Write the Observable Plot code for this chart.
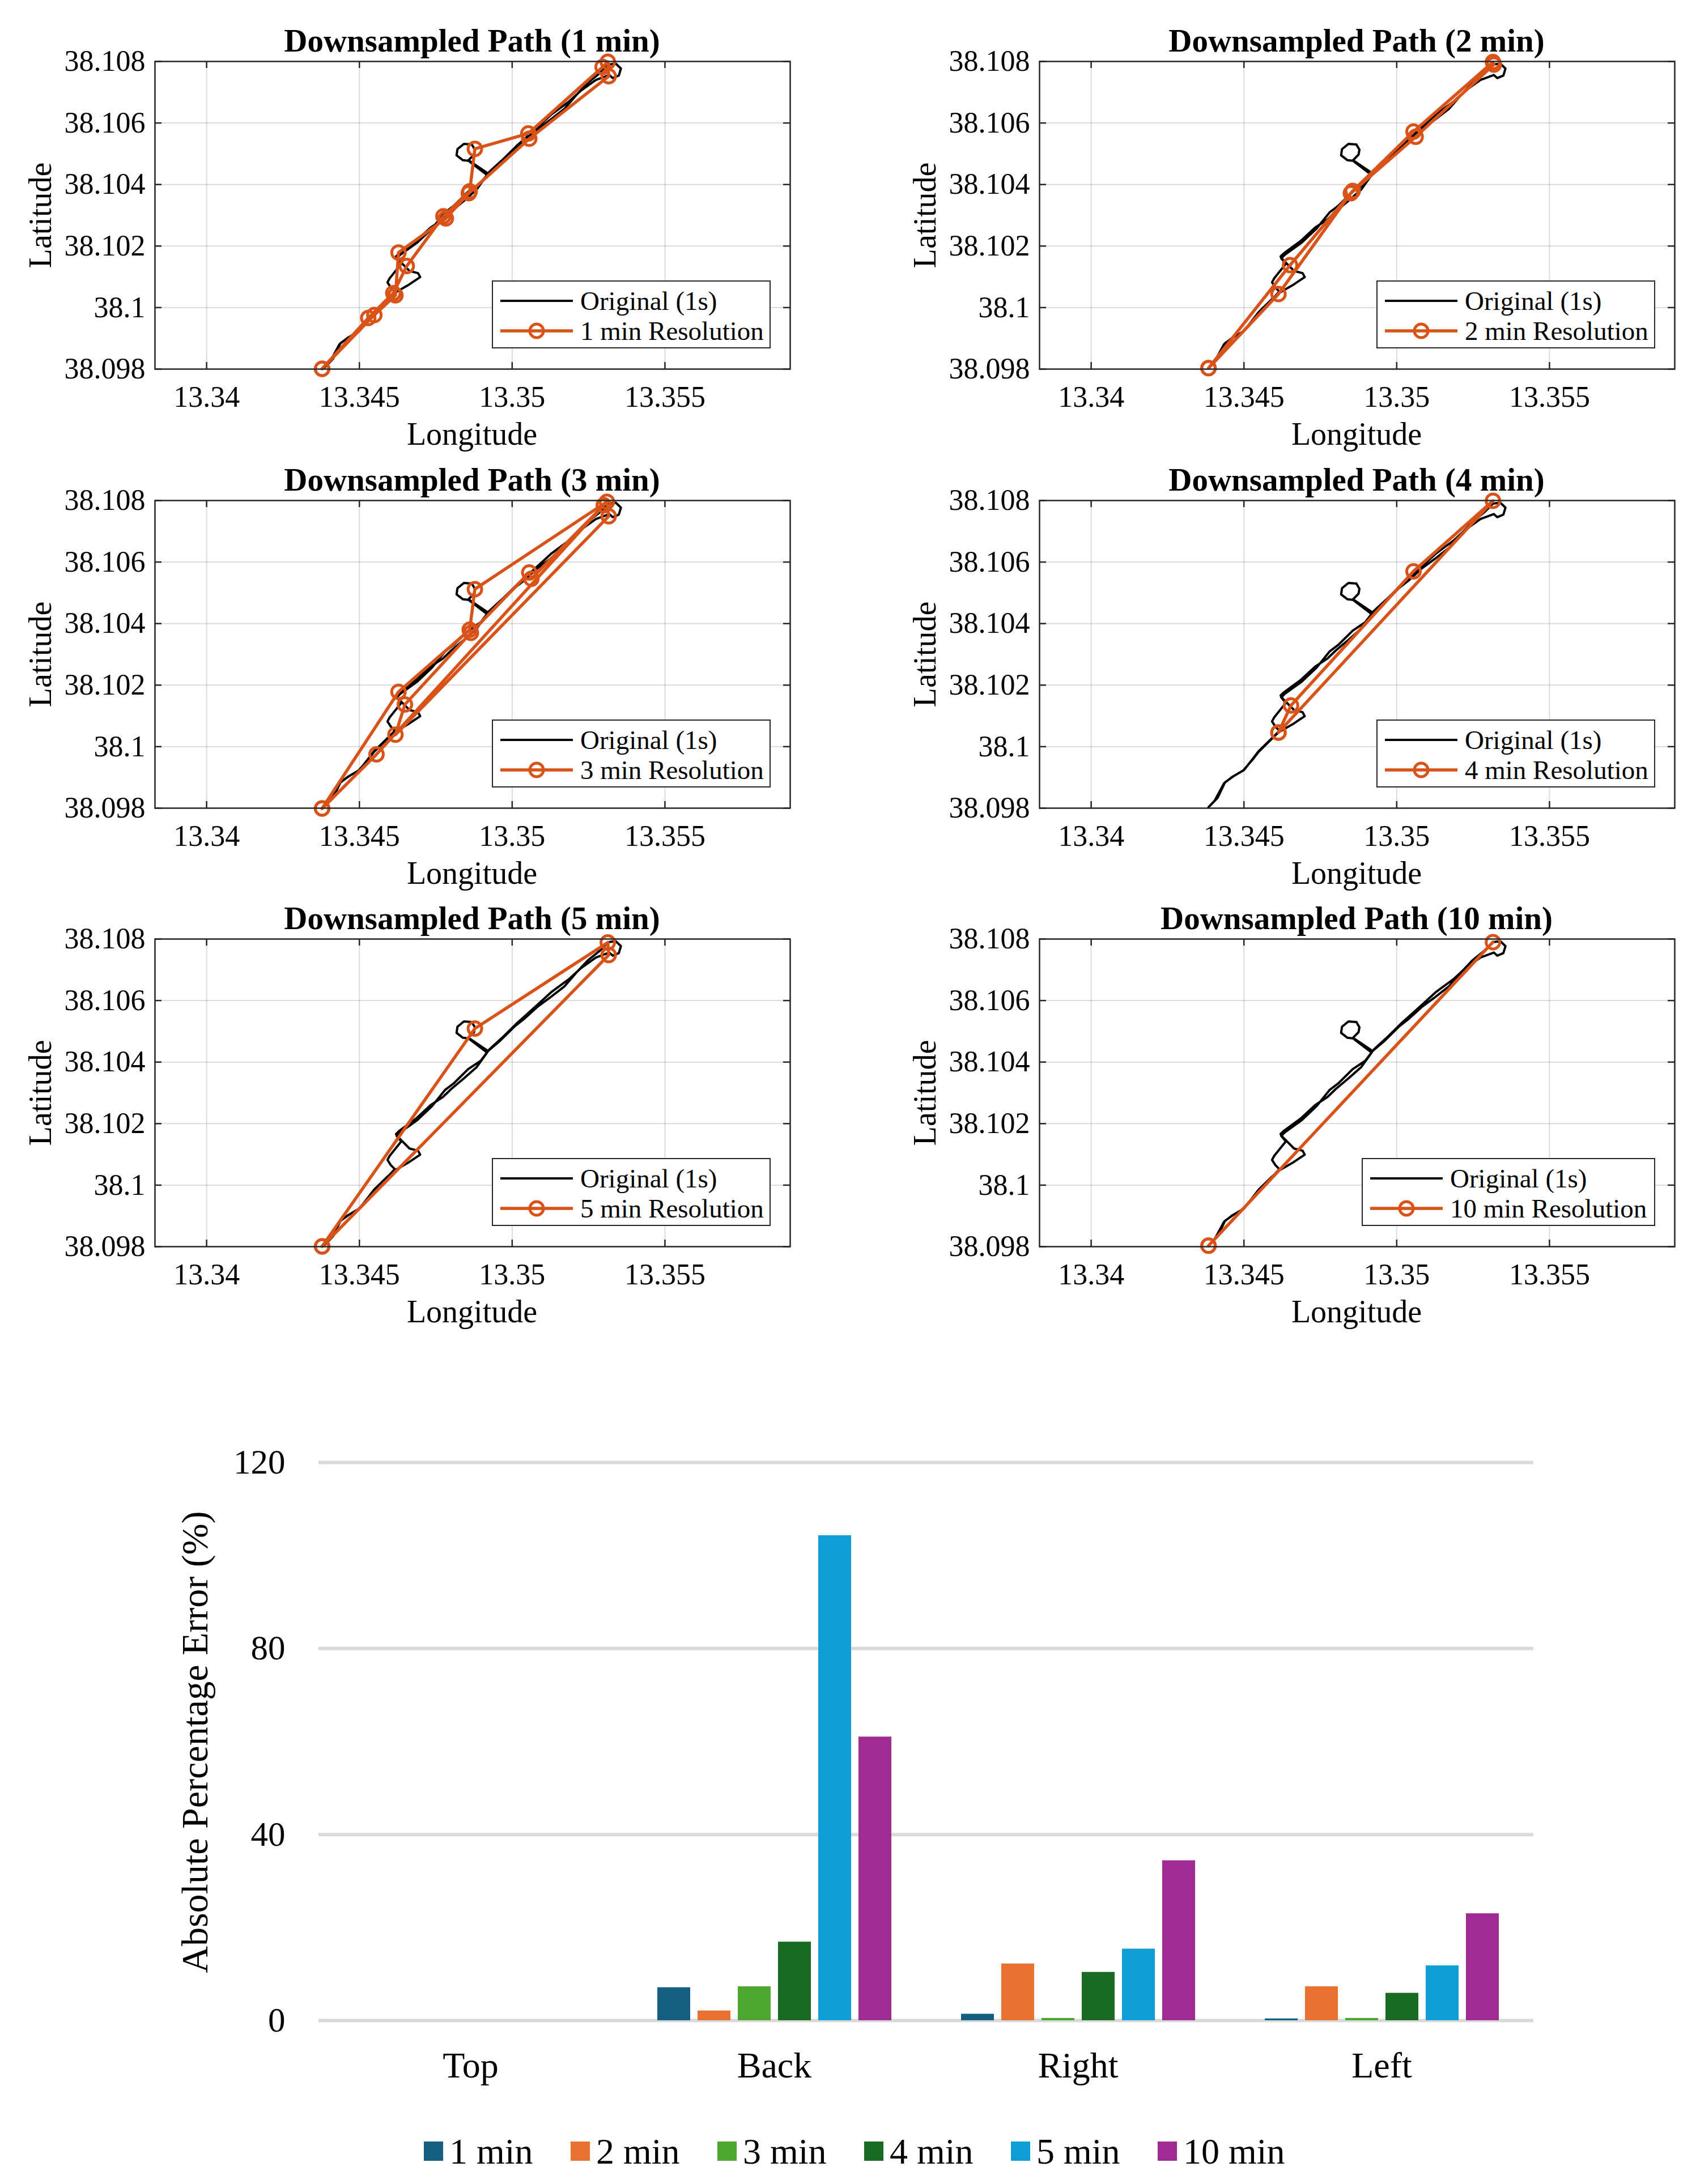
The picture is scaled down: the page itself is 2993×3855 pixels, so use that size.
<!DOCTYPE html>
<html>
<head>
<meta charset="utf-8">
<script src="https://cdn.jsdelivr.net/npm/d3@7"></script>
<script src="https://cdn.jsdelivr.net/npm/@observablehq/plot@0.6"></script>
<style>
  body { margin: 0; background: #fff; }
  #fig { position: relative; width: 2993px; height: 3855px; background: #fff; }
  #fig > div { position: absolute; }
  #fig svg text { font-family: "Liberation Serif", "Times New Roman", serif; }
</style>
</head>
<body>
<div id="fig"></div>
<script>
// original 1 s track (lon / lat)
const origLon = [13.34384, 13.34394, 13.34414, 13.34438, 13.34466, 13.34500, 13.34527, 13.34548, 13.34589, 13.34616,
  13.34658, 13.34699, 13.34692, 13.34664, 13.34627, 13.34620, 13.34630, 13.34685, 13.34733, 13.34774,
  13.34801, 13.34842, 13.34884, 13.34918, 13.34856, 13.34875, 13.34878, 13.34868, 13.34842, 13.34821,
  13.34818, 13.34839, 13.34860, 13.34921, 13.34959, 13.35007, 13.35041, 13.35082, 13.35123, 13.35171,
  13.35212, 13.35247, 13.35288, 13.35315, 13.35339, 13.35356, 13.35349, 13.35329, 13.35318, 13.35274,
  13.35226, 13.35185, 13.35130, 13.35089, 13.35048, 13.35014, 13.34966, 13.34925, 13.34897, 13.34856,
  13.34808, 13.34781, 13.34738, 13.34690, 13.34634, 13.34622, 13.34637, 13.34599, 13.34592, 13.34603,
  13.34616, 13.34589, 13.34548, 13.34527, 13.34497, 13.34462, 13.34435, 13.34404, 13.34384];
const origLat = [38.09803, 38.09813, 38.09834, 38.09884, 38.09904, 38.09924, 38.09958, 38.09985, 38.10025, 38.10048,
  38.10072, 38.10099, 38.10112, 38.10119, 38.10156, 38.10166, 38.10176, 38.10216, 38.10260, 38.10287,
  38.10313, 38.10347, 38.10384, 38.10431, 38.10478, 38.10497, 38.10513, 38.10530, 38.10532, 38.10515,
  38.10495, 38.10479, 38.10477, 38.10436, 38.10468, 38.10515, 38.10542, 38.10579, 38.10609, 38.10646,
  38.10693, 38.10730, 38.10763, 38.10790, 38.10793, 38.10777, 38.10754, 38.10746, 38.10756, 38.10740,
  38.10706, 38.10669, 38.10629, 38.10592, 38.10555, 38.10525, 38.10478, 38.10441, 38.10404, 38.10377,
  38.10330, 38.10310, 38.10257, 38.10212, 38.10172, 38.10160, 38.10142, 38.10095, 38.10082, 38.10065,
  38.10052, 38.10023, 38.09983, 38.09956, 38.09922, 38.09902, 38.09881, 38.09824, 38.09803];

// downsampled tracks
const lon1 = [13.34378, 13.34529, 13.34611, 13.34655, 13.34775, 13.34861, 13.34878, 13.35053, 13.35296, 13.35313,
  13.35316, 13.35056, 13.34858, 13.34783, 13.34628, 13.34618, 13.34549, 13.34378];
const lat1 = [38.09801, 38.09966, 38.10047, 38.10135, 38.10297, 38.10378, 38.10516, 38.10566, 38.10782, 38.10799,
  38.10752, 38.10549, 38.10372, 38.10290, 38.10179, 38.10040, 38.09976, 38.09801];
const lon2 = [13.34384, 13.34651, 13.34856, 13.35055, 13.35315, 13.35318, 13.35062, 13.34850, 13.34613, 13.34384];
const lat2 = [38.09803, 38.10138, 38.10379, 38.10572, 38.10798, 38.10790, 38.10555, 38.10372, 38.10044, 38.09803];
const lon3 = [13.34378, 13.34628, 13.34861, 13.34878, 13.35310, 13.35316, 13.34618, 13.34649, 13.34865, 13.35056,
  13.35063, 13.35300, 13.34556, 13.34378];
const lat3 = [38.09799, 38.10178, 38.10380, 38.10512, 38.10796, 38.10749, 38.10039, 38.10137, 38.10370, 38.10566,
  38.10546, 38.10785, 38.09975, 38.09799];
const lon4 = [13.34613, 13.34654, 13.35055, 13.35315, 13.34613];
const lat4 = [38.10046, 38.10134, 38.10570, 38.10799, 38.10046];
const lon5 = [13.34378, 13.34878, 13.35313, 13.35316, 13.34378];
const lat5 = [38.09801, 38.10509, 38.10789, 38.10748, 38.09801];
const lon10 = [13.34384, 13.35315, 13.34384];
const lat10 = [38.09803, 38.10790, 38.09803];

const xTicks = [13.34, 13.345, 13.35, 13.355];
const yTicks = [38.098, 38.1, 38.102, 38.104, 38.106, 38.108];

// bar chart
const faces = ["Top", "Back", "Right", "Left"];
const resolutions = ["1 min", "2 min", "3 min", "4 min", "5 min", "10 min"];
const err1 = [0, 7.1, 1.4, 0.4];
const err2 = [0, 2.1, 12.2, 7.3];
const err3 = [0, 7.3, 0.5, 0.5];
const err4 = [0, 16.9, 10.4, 5.9];
const err5 = [0, 104.3, 15.4, 11.8];
const err10 = [0, 61.0, 34.4, 23.0];
const barColors = ["#156082", "#E97132", "#4EA72E", "#196B24", "#0F9ED5", "#A02B93"];
const errTicks = [0, 40, 80, 120];

const serif = "Liberation Serif";
const orange = "#D95319";
const fmt = d => String(+d.toFixed(3));
const fig = d3.select("#fig");

function pathPanel(label, lon, lat, left, top, boxX) {
  const orig = origLon.map((x, i) => ({lon: x, lat: origLat[i]}));
  const res = lon.map((x, i) => ({lon: x, lat: lat[i]}));
  const tick = {stroke: "#262626", strokeWidth: 2.5};

  const chart = Plot.plot({
    width: 1420,
    height: 800,
    marginLeft: 273,
    marginRight: 26,
    marginTop: 108,
    marginBottom: 149,
    style: {fontFamily: serif, fontSize: "52px", color: "#000", background: "transparent"},
    x: {domain: [13.33831, 13.3591]},
    y: {domain: [38.098, 38.108]},
    marks: [
      Plot.gridX(xTicks, {stroke: "#000", strokeOpacity: 0.14, strokeWidth: 2}),
      Plot.gridY(yTicks, {stroke: "#000", strokeOpacity: 0.14, strokeWidth: 2}),
      // inward tick marks on all four sides
      Plot.tickX(xTicks, {...tick, insetTop: 531}),
      Plot.tickX(xTicks, {...tick, insetBottom: 531}),
      Plot.tickY(yTicks, {...tick, insetRight: 1109}),
      Plot.tickY(yTicks, {...tick, insetLeft: 1109}),
      Plot.line(orig, {x: "lon", y: "lat", stroke: "#000", strokeWidth: 4}),
      Plot.line(res, {x: "lon", y: "lat", stroke: orange, strokeWidth: 5.5}),
      Plot.dot(res, {x: "lon", y: "lat", r: 12, stroke: orange, strokeWidth: 5, fill: "none"}),
      Plot.axisX({ticks: xTicks, tickFormat: fmt, tickSize: 0, tickPadding: 30, label: null, fontFamily: serif}),
      Plot.axisY({ticks: yTicks, tickFormat: fmt, tickSize: 0, tickPadding: 17, label: null, fontFamily: serif}),
      Plot.frame({stroke: "#262626", strokeWidth: 2.5})
    ]
  });

  const svg = d3.select(chart);
  const t = svg.append("g").attr("font-family", serif).attr("fill", "#000").attr("text-anchor", "middle");
  t.append("text").attr("x", 833).attr("y", 91).attr("font-size", 57).attr("font-weight", "bold")
    .text(`Downsampled Path (${label})`);
  t.append("text").attr("x", 833).attr("y", 785).attr("font-size", 56).text("Longitude");
  t.append("text").attr("transform", "translate(90,380) rotate(-90)").attr("font-size", 56).text("Latitude");

  // legend box
  const g = svg.append("g").attr("font-family", serif).attr("font-size", 47).attr("text-anchor", "start");
  g.append("rect").attr("x", boxX).attr("y", 496).attr("width", 1359 - boxX).attr("height", 118)
    .attr("fill", "#fff").attr("stroke", "#262626").attr("stroke-width", 2);
  const lx = boxX + 14;
  g.append("line").attr("x1", lx).attr("x2", lx + 128).attr("y1", 531).attr("y2", 531)
    .attr("stroke", "#000").attr("stroke-width", 4);
  g.append("text").attr("x", lx + 141).attr("y", 531).attr("dy", "0.35em").text("Original (1s)");
  g.append("line").attr("x1", lx).attr("x2", lx + 128).attr("y1", 584).attr("y2", 584)
    .attr("stroke", orange).attr("stroke-width", 5.5);
  g.append("circle").attr("cx", lx + 64).attr("cy", 584).attr("r", 12)
    .attr("fill", "none").attr("stroke", orange).attr("stroke-width", 5);
  g.append("text").attr("x", lx + 141).attr("y", 584).attr("dy", "0.35em").text(`${label} Resolution`);

  fig.append("div").style("left", left + "px").style("top", top + "px").append(() => chart);
}

pathPanel("1 min", lon1, lat1, 0, 0, 869);
pathPanel("2 min", lon2, lat2, 1561, 0, 869);
pathPanel("3 min", lon3, lat3, 0, 775, 869);
pathPanel("4 min", lon4, lat4, 1561, 775, 869);
pathPanel("5 min", lon5, lat5, 0, 1549, 869);
pathPanel("10 min", lon10, lat10, 1561, 1549, 843);

// Absolute percentage error per face
const errs = [err1, err2, err3, err4, err5, err10];
const rows = faces.flatMap((f, i) => resolutions.map((r, j) => ({face: f, res: r, value: errs[j][i]})));

const bars = Plot.plot({
  width: 2993,
  height: 1355,
  marginLeft: 562,
  marginRight: 287,
  marginTop: 81,
  marginBottom: 289,
  style: {fontFamily: serif, fontSize: "61px", color: "#000", background: "transparent"},
  fx: {domain: faces, padding: 0, label: null},
  x: {domain: resolutions, paddingInner: 0.19, paddingOuter: 0.838, axis: null},
  y: {domain: [0, 120], label: null},
  color: {domain: resolutions, range: barColors},
  marks: [
    Plot.ruleY(errTicks, {stroke: "#d9d9d9", strokeWidth: 6}),
    Plot.barY(rows, {fx: "face", x: "res", y: "value", fill: "res"}),
    Plot.axisY({ticks: errTicks, tickSize: 0, tickPadding: 59, label: null, fontFamily: serif}),
    Plot.axisFx({anchor: "bottom", tickSize: 0, tickPadding: 55, fontSize: 64, label: null, fontFamily: serif})
  ]
});

const bsvg = d3.select(bars);
bsvg.append("text")
  .attr("transform", "translate(366,575) rotate(-90)")
  .attr("font-family", serif).attr("font-size", 66).attr("text-anchor", "middle")
  .text("Absolute Percentage Error (%)");

const leg = bsvg.append("g").attr("font-family", serif).attr("font-size", 64).attr("text-anchor", "start");
resolutions.forEach((r, i) => {
  const x0 = 748 + i * 259;
  leg.append("rect").attr("x", x0).attr("y", 1280).attr("width", 34).attr("height", 34).attr("fill", barColors[i]);
  leg.append("text").attr("x", x0 + 45).attr("y", 1297).attr("dy", "0.35em").text(r);
});

fig.append("div").style("left", "0px").style("top", "2500px").append(() => bars);
</script>
</body>
</html>
